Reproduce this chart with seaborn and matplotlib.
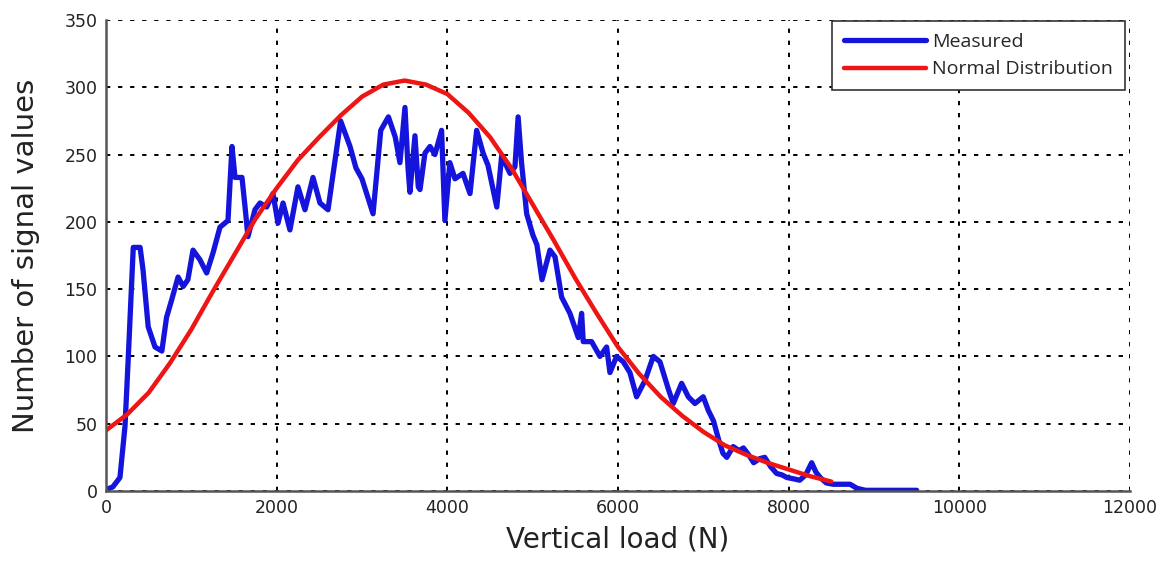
import numpy as np
import pandas as pd
import seaborn as sns
import matplotlib
matplotlib.use("Agg")
import matplotlib.pyplot as plt

# measured histogram counts
load_measured = [0, 80, 164, 223, 260, 300, 320, 400, 435, 495, 575, 655, 710, 770, 845,
                 905, 960, 1020, 1100, 1180, 1255, 1336, 1430, 1477, 1512, 1594, 1630,
                 1664, 1746, 1805, 1883, 1957, 2016, 2075, 2156, 2250, 2332, 2426, 2508,
                 2602, 2750, 2860, 2930, 3000, 3130, 3220, 3310, 3390, 3445, 3504, 3540,
                 3562, 3621, 3660, 3680, 3738, 3797, 3855, 3933, 3972, 4030, 4090, 4184,
                 4266, 4344, 4420, 4477, 4580, 4637, 4735, 4793, 4830, 4870, 4930, 5004,
                 5050, 5110, 5203, 5262, 5340, 5437, 5535, 5574, 5593, 5691, 5789, 5867,
                 5906, 5984, 6062, 6140, 6218, 6316, 6414, 6492, 6589, 6648, 6746, 6824,
                 6902, 6999, 7058, 7120, 7180, 7230, 7275, 7350, 7420, 7470, 7530, 7590,
                 7660, 7720, 7790, 7860, 7920, 7980, 8060, 8130, 8200, 8270, 8320, 8370,
                 8440, 8520, 8620, 8720, 8800, 8900, 9500]
count_measured = [1, 3, 10, 48, 97, 152, 181, 181, 164, 122, 107, 104, 129, 142, 159,
                  152, 157, 179, 172, 162, 177, 196, 201, 256, 233, 233, 211,
                  189, 209, 214, 211, 221, 199, 214, 194, 226, 209, 233, 214,
                  209, 275, 256, 240, 232, 206, 268, 278, 263, 244, 285, 240,
                  222, 264, 226, 224, 251, 256, 250, 268, 201, 244, 232, 236,
                  221, 268, 251, 242, 211, 249, 236, 241, 278, 244, 206, 190,
                  183, 157, 179, 174, 144, 132, 114, 132, 111, 111, 100, 107,
                  88, 100, 96, 88, 70, 82, 100, 96, 76, 65, 80, 70,
                  65, 70, 60, 52, 38, 28, 25, 33, 30, 32, 27, 21,
                  24, 25, 18, 13, 12, 10, 9, 8, 12, 21, 14, 10,
                  6, 5, 5, 5, 2, 0.5, 0.5]

# fitted normal distribution curve
load_normal = [0, 250, 500, 750, 1000, 1250, 1500, 1750, 2000, 2250, 2500, 2750, 3000,
               3250, 3500, 3750, 4000, 4250, 4500, 4750, 5000, 5250, 5500, 5750, 6000,
               6250, 6500, 6750, 7000, 7250, 7500, 7750, 8000, 8250, 8500]
count_normal = [45, 57, 73, 95, 120, 148, 175, 202, 225, 246, 263, 279, 293,
                302, 305, 302, 295, 281, 263, 240, 213, 186, 158, 132, 107,
                87, 70, 56, 44, 34, 27, 21, 16, 11, 7]

x_ticks = [0, 2000, 4000, 6000, 8000, 10000, 12000]
y_ticks = [0, 50, 100, 150, 200, 250, 300, 350]

sns.set_style("white")
plt.rcParams['font.family'] = ['DejaVu Sans']

fig = plt.figure(figsize=(11.58, 5.68), dpi=100)
ax = fig.add_axes([0.0915, 0.1356, 0.8843, 0.8292])

sns.lineplot(x=load_measured, y=count_measured, color='#1414dc', linewidth=3.8,
             label='Measured', ax=ax, sort=False)
sns.lineplot(x=load_normal, y=count_normal, color='#ee1515', linewidth=3.2,
             label='Normal Distribution', ax=ax, sort=False)

ax.set_xlim(0, 12000)
ax.set_ylim(0, 350)
ax.set_xticks(x_ticks)
ax.set_yticks(y_ticks)
ax.tick_params(axis='both', direction='in', length=8, width=1.2, labelsize=12.5,
               color='#333333', labelcolor='#222222', pad=6)

ax.grid(True, color='black', linestyle=(0, (2.2, 4)), linewidth=1.4)
ax.set_axisbelow(True)
for side in ['top', 'right']:
    ax.spines[side].set_visible(False)
for side in ['left', 'bottom']:
    ax.spines[side].set_color('#555555')
    ax.spines[side].set_linewidth(1.8)

ax.set_xlabel('Vertical load (N)', fontsize=20, labelpad=6, color='#222222')
ax.set_ylabel('Number of signal values', fontsize=21, labelpad=18, color='#222222')

leg = ax.legend(loc='upper right', bbox_to_anchor=(0.995, 0.998), borderaxespad=0,
                frameon=True, fancybox=False, edgecolor='#333333',
                handlelength=4.2, handletextpad=0.35, labelspacing=0.5, borderpad=0.6,
                prop={'family': ['Open Sans', 'DejaVu Sans'], 'size': 14})
leg.get_frame().set_linewidth(1.2)
leg.get_frame().set_alpha(1)

fig.savefig('out.png', dpi=100)
